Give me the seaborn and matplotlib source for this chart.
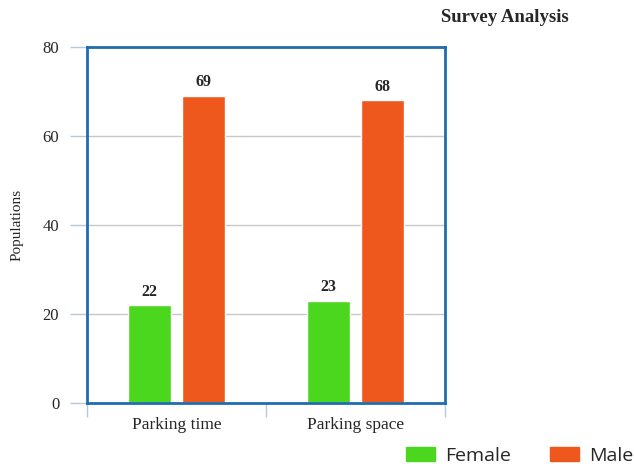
import matplotlib
matplotlib.use("Agg")
import matplotlib.pyplot as plt
import seaborn as sns
import pandas as pd
from matplotlib.patches import Patch

categories = ["Parking time", "Parking space"]
female = [22, 23]
male = [69, 68]
series = ["Female", "Male"]
colors = {"Female": "#4cd71f", "Male": "#ee581d"}

df = pd.DataFrame({
    "cat": categories * 2,
    "val": female + male,
    "series": ["Female"] * len(categories) + ["Male"] * len(categories),
})

sns.set_style("white")
fig = plt.figure(figsize=(6.34, 4.66), dpi=100)
ax = fig.add_axes([87/634, 1-403/466, (445-87)/634, (403-47)/466])

sns.barplot(data=df, x="cat", y="val", hue="series", palette=colors,
            width=0.6, gap=0.2, ax=ax, legend=False, saturation=1)

ax.set_xlim(-0.5, 1.5)
ax.set_ylim(0, 80)
ax.set_yticks([0, 20, 40, 60, 80])
ax.yaxis.grid(True, color="#c8c8c8", linewidth=1)
ax.set_axisbelow(True)
ax.tick_params(axis="y", left=True, length=12, color="#b8c8d8", width=1, pad=8,
               labelsize=12)
ax.tick_params(axis="x", which="major", bottom=True, length=0, pad=10, labelsize=12.5)
ax.set_xticks([-0.5, 0.5, 1.5], minor=True)
ax.tick_params(axis="x", which="minor", bottom=True, length=10, color="#b8c8d8", width=1)
for lab in ax.get_xticklabels() + ax.get_yticklabels():
    lab.set_family("Liberation Serif")
ax.set_xlabel("")
ax.set_ylabel("Populations", family="Liberation Serif", fontsize=11, labelpad=14)

for s in ax.spines.values():
    s.set_visible(True)
    s.set_color("#1f6db0")
    s.set_linewidth(2)

for cont in ax.containers:
    ax.bar_label(cont, padding=4, fontsize=11.5, fontweight="bold",
                 family="Liberation Serif")

fig.text(505/634, 1-18/466, "Survey Analysis", ha="center", va="center",
         fontsize=13.5, fontweight="bold", family="Liberation Serif")

handles = [Patch(color=colors[s]) for s in series]
fig.legend(handles, series, loc="center right", bbox_to_anchor=(1.0, 1-456/466),
           ncol=2, frameon=False, prop={"family": "Open Sans", "size": 14},
           handlelength=1.5, handleheight=0.75, columnspacing=2.0, handletextpad=0.5,
           borderaxespad=0.0, borderpad=0.05)

fig.savefig("out.png", dpi=100)
